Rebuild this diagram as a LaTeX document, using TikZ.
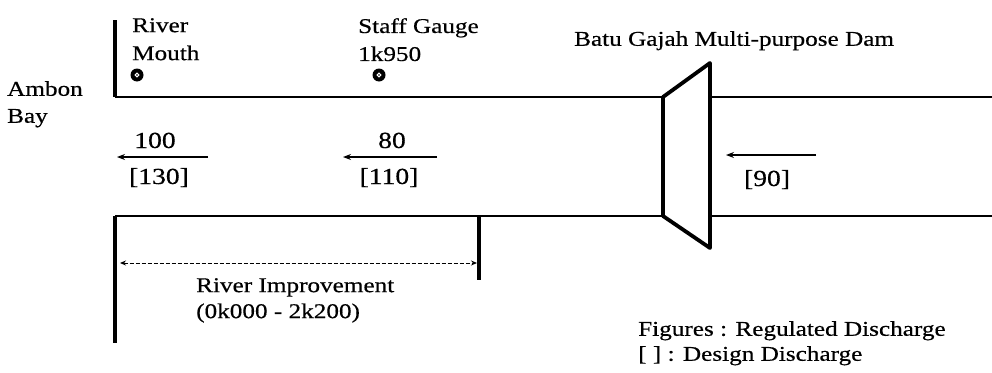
\documentclass[tikz,border=0pt]{standalone}
\usepackage{fontspec}
\setmainfont{Liberation Serif}[FakeStretch=1.2, FakeBold=0.5]
\usetikzlibrary{positioning,arrows.meta}

\begin{document}
\begin{tikzpicture}[x=1pt, y=-1pt,
  lbl/.style={inner sep=0pt, align=left, anchor=north west, font=\fontsize{21}{28}\selectfont},
  num/.style={inner sep=0pt, anchor=base, font=\fontsize{23}{28}\selectfont},
  bank/.style={line width=1.8pt},
  wall/.style={line width=3.8pt, line join=round},
  flow/.style={-{Stealth[length=8pt, width=6pt]}, line width=1.2pt},
  dimline/.style={{Stealth[length=6pt, width=5pt]}-{Stealth[length=6pt, width=5pt]}, dash pattern=on 4pt off 2pt, line width=0.9pt},
  gauge/.style={circle, fill=black, minimum size=13pt, inner sep=0pt},
]
\useasboundingbox (0,0) rectangle (992,372);

% river banks and walls
\coordinate (mouthT) at (115,20);
\coordinate (mouthU) at (115,97);
\coordinate (mouthL) at (115,216);
\coordinate (mouthB) at (115,343);
\coordinate (damTL) at (663,97);
\coordinate (damTR) at (710,63);
\coordinate (damBR) at (710,248);
\coordinate (damBL) at (663,216);
\coordinate (upT) at (992,97);
\coordinate (upB) at (992,216);
\coordinate (impT) at (479,216);
\coordinate (impB) at (479,280);

\draw[bank] (mouthU) -- (damTL);
\draw[bank] (damTR |- mouthU) -- (upT);
\draw[bank] (mouthL) -- (damBL);
\draw[bank] (damTR |- mouthL) -- (upB);
\draw[wall] (mouthT) -- (mouthU);
\draw[wall] (mouthL) -- (mouthB);
\draw[wall] (impT) -- (impB);
\draw[wall] (damTL) -- (damTR) -- (damBR) -- (damBL) -- cycle;

% gauges
\node[gauge] (gMouth) at (137,75) {};
\node[gauge] (gStaff) at (379,75) {};
\foreach \g in {gMouth,gStaff}
  \draw[white, line width=1.1pt] (\g) circle (1.8pt);

% labels
\node[lbl] (mouth) at (132,18) {River\\Mouth};
\node[lbl] (staff) at (358,18) {Staff Gauge\\1k950};
\node[lbl] (dam) at (574,31) {Batu Gajah Multi-purpose Dam};
\node[lbl, font=\fontsize{21}{27}\selectfont] (bay) at (7,81) {Ambon\\Bay};

% discharges
\node[num] (q1) at (155,148) {100};
\node[num] (d1) at (159,184) {[130]};
\node[num] (q2) at (392,148) {80};
\node[num] (d2) at (389,184) {[110]};
\node[num] (d3) at (767,186) {[90]};

\coordinate (f1s) at (208,157);
\coordinate (f1e) at (117,157);
\coordinate (f2s) at (437,157);
\coordinate (f2e) at (343,157);
\coordinate (f3s) at (816,155);
\coordinate (f3e) at (726,155);
\foreach \s/\e in {f1s/f1e,f2s/f2e,f3s/f3e}
  \draw[flow] (\s) -- (\e);

% river improvement stretch
\coordinate (imL) at (120,263);
\coordinate (imR) at (477,263);
\draw[dimline] (imL) -- (imR);
\node[lbl, font=\fontsize{21}{26}\selectfont] (improve) at (196,278) {River Improvement\\(0k000 - 2k200)};

% legend
\node[lbl, font=\fontsize{21}{25}\selectfont] (legend) at (638,321) {Figures : Regulated Discharge\\{[ ]} : Design Discharge};
\end{tikzpicture}
\end{document}
